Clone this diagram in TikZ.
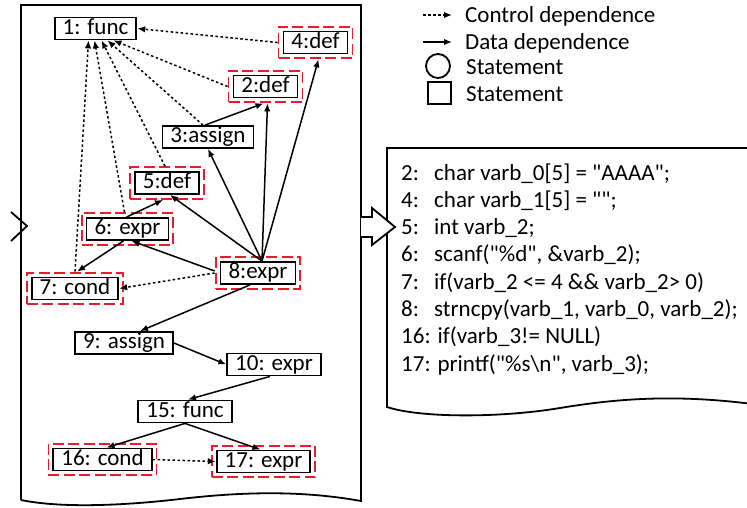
\documentclass[tikz,border=0pt]{standalone}
\usepackage{fontspec}
\setmainfont{Carlito}[Ligatures=TeXOff]
\usetikzlibrary{arrows.meta,fit}
\definecolor{dred}{RGB}{228,30,45}
\newcommand{\cnum}[1]{\makebox[33pt][l]{#1}}
\begin{document}
\begin{tikzpicture}[x=1pt,y=-1pt,
  every node/.style={font=\fontsize{23}{27}\selectfont},
  stmt/.style={draw, line width=1.8pt, inner xsep=8pt, inner ysep=0.5pt, text height=16pt, text depth=5pt},
  redbox/.style={draw=dred, line width=1.9pt, dash pattern=on 11pt off 4.5pt, inner sep=4pt},
  dep/.style={line width=1.5pt, -{Latex[length=8pt,width=6.5pt]}},
  ctrl/.style={dep, dash pattern=on 2.5pt off 2.5pt},
  doc/.style={line width=1.8pt},
  txt/.style={anchor=base west, inner sep=0pt}
]
\useasboundingbox (0,0) rectangle (747,507);

% left document
\draw[doc] (21,500) -- (21,5) -- (361,5) -- (361,501)
  .. controls (300,490) and (240,492) .. (180,499)
  .. controls (120,506) and (60,508) .. (21,500);
% partial incoming arrow at left edge
\draw[doc] (11,212) -- (27,226) -- (11,241);

% right document
\draw[doc] (760,405) .. controls (680,394) and (620,398) .. (560,408)
  .. controls (500,418) and (420,418) .. (387,407) -- (387,148) -- (760,148);
% block arrow
\draw[doc, fill=white] (361,217) -- (372,217) -- (372,208) -- (395,227) -- (372,245) -- (372,237) -- (361,237);

% statements
\node[stmt] (n1) at (95.5,28.5) {1: func};
\node[stmt] (n4) at (315.5,42.5) {4:def};
\node[stmt] (n2) at (265.5,86.5) {2:def};
\node[stmt] (n3) at (208,137) {3:assign};
\node[stmt] (n5) at (167,183) {5:def};
\node[stmt] (n6) at (127.5,229) {6: expr};
\node[stmt] (n7) at (75,288.5) {7: cond};
\node[stmt] (n8) at (258,273) {8:expr};
\node[stmt] (n9) at (124,343) {9: assign};
\node[stmt] (n10) at (274,364.5) {10: expr};
\node[stmt] (n15) at (185,411.5) {15: func};
\node[stmt] (n16) at (102.5,459.5) {16: cond};
\node[stmt] (n17) at (263.5,461.5) {17: expr};

% red dashed frames
\node[redbox, fit=(n4)] (n4r) {};
\node[redbox, fit=(n2)] (n2r) {};
\node[redbox, fit=(n5)] (n5r) {};
\node[redbox, fit=(n6)] (n6r) {};
\node[redbox, fit=(n7)] (n7r) {};
\node[redbox, fit=(n8)] (n8r) {};
\node[redbox, fit=(n16)] (n16r) {};
\node[redbox, fit=(n17)] (n17r) {};

\coordinate (s8) at ([xshift=4pt]n8.north);

% control dependences
\draw[ctrl] (n4r.west) -- (n1.east);
\draw[ctrl] (n2r.west) -- ([xshift=18pt]n1.south);
\draw[ctrl] ([xshift=-5pt]n3.north) -- ([xshift=12pt]n1.south);
\draw[ctrl] ([xshift=-2pt]n5r.north) -- ([xshift=6pt]n1.south);
\draw[ctrl] ([xshift=-3pt]n6r.north) -- ([xshift=-1pt]n1.south);
\draw[ctrl] (n7r.north) -- ([xshift=-7pt]n1.south);
\draw[ctrl] (n8r.west) -- (n7.east);
\draw[ctrl] (n16.east) -- (n17.west);

% data dependences
\draw[dep] ([xshift=-3pt]n3.north) -- ([xshift=-2pt]n2r.south);
\draw[dep] (s8) -- ([xshift=2pt]n2r.south);
\draw[dep] (s8) -- ([xshift=3pt]n4r.south);
\draw[dep] (s8) -- (n3.south);
\draw[dep] (s8) -- ([xshift=3pt]n5.south);
\draw[dep] ([yshift=2pt]n8r.west) -- ([xshift=4pt]n6.south);
\draw[dep] ([xshift=-1pt]n6.north) -- ([xshift=-4pt]n5r.south);
\draw[dep] ([xshift=-4pt]n6.south) -- ([xshift=2pt]n7r.north);
\draw[dep] ([xshift=-8pt]n8.south) -- ([xshift=16pt]n9.north);
\draw[dep] (n9.east) -- (n10.west);
\draw[dep] ([xshift=-4pt]n10.south) -- ([xshift=3pt]n15.north);
\draw[dep] (n15.south) -- ([xshift=4pt]n16.north);
\draw[dep] (n15.south) -- ([xshift=-3pt]n17.north);

% legend
\coordinate (la1) at (423,15); \coordinate (la2) at (452,15);
\coordinate (lb1) at (423,42); \coordinate (lb2) at (452,42);
\draw[ctrl] (la1) -- (la2);
\draw[dep] (lb1) -- (lb2);
\draw[line width=1.8pt] (438,66) circle (12);
\draw[line width=1.8pt] (428,82) rectangle (451,104);
\node[txt] (lt1) at (465,22) {Control dependence};
\node[txt] (lt2) at (465,49) {Data dependence};
\node[txt] (lt3) at (466,74) {Statement};
\node[txt] (lt4) at (466,101) {Statement};

% code
\node[txt] (c1) at (401,180) {\cnum{2:}char varb\_0[5] = "AAAA";};
\node[txt] (c2) at (401,207.3) {\cnum{4:}char varb\_1[5] = "";};
\node[txt] (c3) at (401,234.6) {\cnum{5:}int varb\_2;};
\node[txt] (c4) at (401,261.9) {\cnum{6:}scanf("\%d", \&varb\_2);};
\node[txt] (c5) at (401,289.2) {\cnum{7:}if(varb\_2 <= 4 \&\& varb\_2> 0)};
\node[txt] (c6) at (401,316.5) {\cnum{8:}strncpy(varb\_1, varb\_0, varb\_2);};
\node[txt] (c7) at (401,343.8) {16: if(varb\_3!= NULL)};
\node[txt] (c8) at (401,371.1) {17: printf("\%s\textbackslash n", varb\_3);};
\end{tikzpicture}
\end{document}
